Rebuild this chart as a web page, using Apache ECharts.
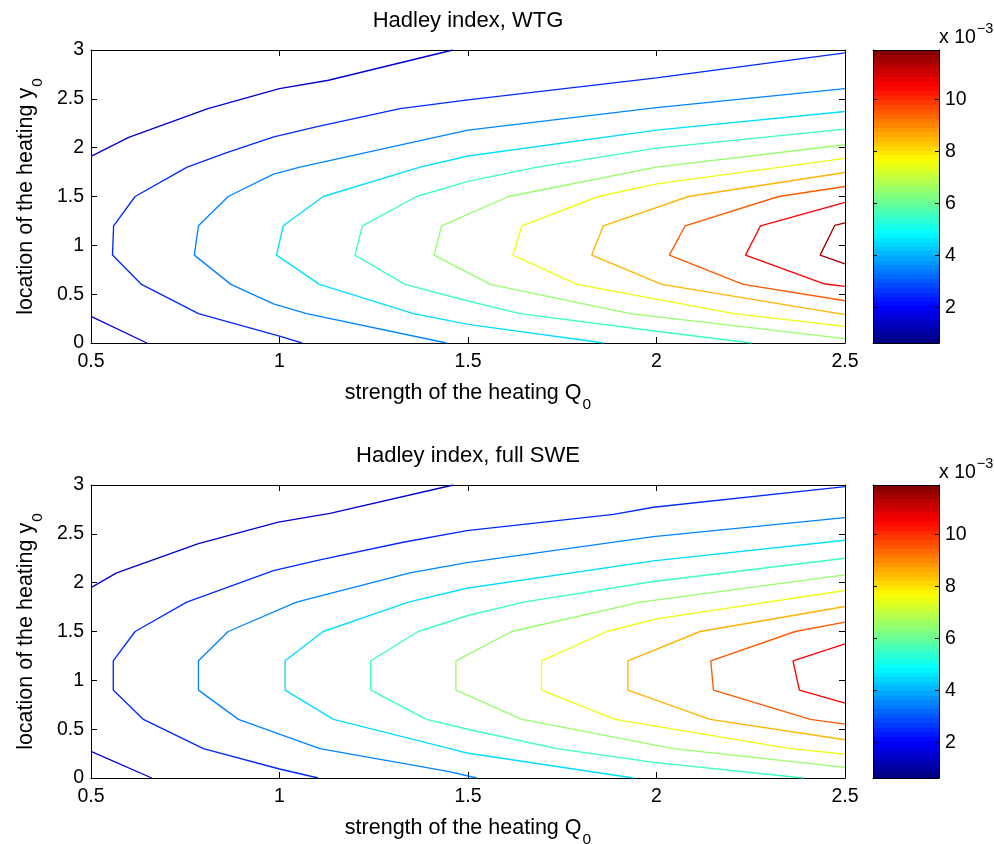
<!DOCTYPE html>
<html><head><meta charset="utf-8">
<script src="https://cdn.jsdelivr.net/npm/echarts@6/dist/echarts.min.js"></script>
<style>html,body{margin:0;padding:0;background:#fff}#c{width:994px;height:844px}</style>
</head><body><div id="c"></div>
<script>
// ---------- data ----------
const xTickValues = [0.5, 1, 1.5, 2, 2.5];
const yTickValues = [0, 0.5, 1, 1.5, 2, 2.5, 3];
const colorRange = [0.62, 11.9];          // colorbar limits (x 10^-3)
const colorbarTicks = [2, 4, 6, 8, 10];
const contourLevels = [1.5, 2.5, 3.5, 4.5, 5.5, 6.5, 7.5, 8.5, 9.5, 10.5, 11.5];

// Top panel: WTG  (points are [Q0, y0])
const wtgL1a = [[0.5,1.91],[0.6,2.105],[0.81,2.4],[1.0,2.605],[1.13,2.69],[1.46,3.0]];
const wtgL1b = [[0.5,0.273],[0.648,0]];
const wtgL2 = [[2.5,2.97],[2.0,2.715],[1.5,2.49],[1.32,2.4],[1.1,2.215],[0.985,2.11],[0.86,1.95],[0.755,1.8],[0.617,1.5],[0.56,1.2],[0.557,0.9],[0.634,0.6],[0.785,0.3],[1.0,0.07],[1.06,0]];
const wtgL3 = [[2.5,2.605],[2.0,2.41],[1.5,2.18],[1.054,1.8],[0.984,1.73],[0.864,1.5],[0.785,1.2],[0.774,0.9],[0.871,0.6],[0.984,0.4],[1.072,0.3],[1.443,0]];
const wtgL4 = [[2.5,2.37],[2.0,2.18],[1.5,1.915],[1.373,1.8],[1.116,1.5],[1.01,1.2],[0.992,0.9],[1.106,0.6],[1.355,0.3],[1.5,0.19],[1.86,0]];
const wtgL5 = [[2.5,2.19],[2.0,1.995],[1.683,1.8],[1.5,1.654],[1.364,1.5],[1.22,1.2],[1.2,0.9],[1.333,0.6],[1.5,0.43],[1.638,0.3],[2.0,0.12],[2.252,0]];
const wtgL6 = [[2.5,2.03],[2.0,1.8],[1.607,1.5],[1.43,1.2],[1.41,0.9],[1.559,0.6],[1.93,0.3],[2.5,0.044]];
const wtgL7 = [[2.5,1.89],[2.0,1.63],[1.846,1.5],[1.643,1.2],[1.619,0.9],[1.789,0.6],[2.205,0.3],[2.5,0.17]];
const wtgL8 = [[2.5,1.746],[2.085,1.5],[1.859,1.2],[1.828,0.9],[2.014,0.6],[2.5,0.29]];
const wtgL9 = [[2.5,1.602],[2.324,1.5],[2.076,1.2],[2.034,0.9],[2.23,0.6],[2.5,0.433]];
const wtgL10 = [[2.5,1.44],[2.276,1.2],[2.236,0.9],[2.443,0.607],[2.5,0.58]];
const wtgL11 = [[2.5,1.23],[2.473,1.205],[2.434,0.9],[2.5,0.81]];

// Bottom panel: full SWE
const sweL1a = [[0.5,1.95],[0.568,2.1],[0.785,2.4],[0.997,2.62],[1.134,2.71],[1.461,3.0]];
const sweL1b = [[0.5,0.273],[0.661,0]];
const sweL2 = [[2.5,2.983],[1.992,2.772],[1.886,2.70],[1.497,2.533],[1.328,2.414],[1.107,2.233],[0.984,2.124],[0.754,1.8],[0.617,1.5],[0.559,1.2],[0.559,0.9],[0.639,0.6],[0.798,0.3],[1.0,0.092],[1.103,0]];
const sweL3 = [[2.5,2.666],[1.992,2.472],[1.497,2.206],[1.346,2.1],[1.045,1.8],[0.864,1.5],[0.785,1.2],[0.785,0.9],[0.891,0.6],[1.107,0.3],[1.45,0.065],[1.523,0]];
const sweL4 = [[2.5,2.434],[1.992,2.223],[1.497,1.943],[1.342,1.8],[1.116,1.5],[1.015,1.2],[1.015,0.9],[1.143,0.6],[1.452,0.3],[1.497,0.256],[1.939,0]];
const sweL5 = [[2.5,2.25],[1.992,2.012],[1.647,1.8],[1.5,1.664],[1.368,1.5],[1.242,1.2],[1.242,0.9],[1.39,0.6],[1.505,0.494],[1.735,0.3],[1.992,0.16],[2.39,0]];
const sweL6 = [[2.5,2.08],[1.957,1.8],[1.616,1.5],[1.468,1.2],[1.468,0.9],[1.643,0.6],[2.045,0.3],[2.5,0.109]];
const sweL7 = [[2.5,1.92],[2.0,1.63],[1.868,1.5],[1.695,1.2],[1.695,0.9],[1.89,0.6],[2.355,0.3],[2.5,0.245]];
const sweL8 = [[2.5,1.756],[2.116,1.5],[1.924,1.2],[1.924,0.9],[2.142,0.6],[2.5,0.392]];
const sweL9 = [[2.5,1.596],[2.368,1.5],[2.144,1.2],[2.151,0.9],[2.408,0.6],[2.5,0.552]];
const sweL10 = [[2.5,1.374],[2.362,1.2],[2.379,0.9],[2.5,0.767]];

// contour pieces: [levelIndex, points]
const wtgContours = [[0,wtgL1a],[0,wtgL1b],[1,wtgL2],[2,wtgL3],[3,wtgL4],[4,wtgL5],[5,wtgL6],[6,wtgL7],[7,wtgL8],[8,wtgL9],[9,wtgL10],[10,wtgL11]];
const sweContours = [[0,sweL1a],[0,sweL1b],[1,sweL2],[2,sweL3],[3,sweL4],[4,sweL5],[5,sweL6],[6,sweL7],[7,sweL8],[8,sweL9],[9,sweL10]];

// ---------- rendering ----------
const FONT = 'Liberation Sans, Arial, Helvetica, sans-serif';
function jet(t) {
  const c = v => Math.round(255 * Math.max(0, Math.min(1, v)));
  return 'rgb(' + c(1.5 - Math.abs(4*t - 3)) + ',' + c(1.5 - Math.abs(4*t - 2)) + ',' + c(1.5 - Math.abs(4*t - 1)) + ')';
}
function levelColor(L) { return jet((L - colorRange[0]) / (colorRange[1] - colorRange[0])); }

const stops = [];
for (let i = 0; i < 64; i++) {
  const col = jet((i + 0.5) / 64);
  stops.push({offset: i / 64, color: col});
  stops.push({offset: (i + 1) / 64, color: col});
}
const cbGradient = new echarts.graphic.LinearGradient(0, 1, 0, 0, stops);

const black = {color: '#000', width: 1};
const tickFont = {color: '#000', fontSize: 19.5, fontFamily: FONT};
const subRich = {
  m: {fontSize: 21.5, fontFamily: FONT, color: '#000', lineHeight: 24, verticalAlign: 'middle', fontWeight: 'normal'},
  s: {fontSize: 15.5, fontFamily: FONT, color: '#000', lineHeight: 15, padding: [24, 0, 0, 1], verticalAlign: 'middle', fontWeight: 'normal'}
};

const grids = [
  {left: 91, top: 50, width: 754, height: 293, outerBoundsMode: 'none'},
  {left: 91, top: 485, width: 754, height: 293, outerBoundsMode: 'none'},
  {left: 873, top: 50, width: 66, height: 293, outerBoundsMode: 'none'},
  {left: 873, top: 485, width: 66, height: 293, outerBoundsMode: 'none'}
];

const xAxes = [], yAxes = [];
function plotAxes(g, title) {
  const base = {type: 'value', gridIndex: g, min: xTickValues[0], max: xTickValues[xTickValues.length-1], interval: 0.5,
    axisLine: {show: true, onZero: false, lineStyle: black}, splitLine: {show: false},
    axisTick: {show: true, inside: true, length: 6, lineStyle: black}};
  xAxes.push(Object.assign({}, base, {position: 'bottom',
    axisLabel: Object.assign({margin: 9}, tickFont),
    name: '{m|strength of the heating Q}{s|0}', nameLocation: 'middle', nameGap: 28,
    nameTextStyle: {rich: subRich}}));
  xAxes.push(Object.assign({}, base, {position: 'top', axisLabel: {show: false},
    name: title, nameLocation: 'middle', nameGap: 18,
    nameTextStyle: {fontSize: 22, fontFamily: FONT, color: '#000'}}));
  const ybase = {type: 'value', gridIndex: g, min: yTickValues[0], max: yTickValues[yTickValues.length-1], interval: 0.5,
    axisLine: {show: true, onZero: false, lineStyle: black}, splitLine: {show: false},
    axisTick: {show: true, inside: true, length: 6, lineStyle: black}};
  yAxes.push(Object.assign({}, ybase, {position: 'left',
    axisLabel: Object.assign({margin: 7}, tickFont),
    name: '{m|location of the heating y}{s|0}', nameLocation: 'middle', nameGap: 43, nameRotate: 90,
    nameTextStyle: {rich: subRich}}));
  yAxes.push(Object.assign({}, ybase, {position: 'right', axisLabel: {show: false}}));
}
function cbAxes(g) {
  const xb = {type: 'value', gridIndex: g, min: 0, max: 1, axisLine: {show: true, onZero: false, lineStyle: black},
    axisTick: {show: false}, axisLabel: {show: false}, splitLine: {show: false}};
  xAxes.push(Object.assign({}, xb, {position: 'bottom'}));
  xAxes.push(Object.assign({}, xb, {position: 'top'}));
  const yb = {type: 'value', gridIndex: g, min: colorRange[0], max: colorRange[1],
    axisLine: {show: true, onZero: false, lineStyle: black}, splitLine: {show: false},
    axisTick: {show: true, inside: true, length: 4, lineStyle: black, customValues: colorbarTicks}};
  yAxes.push(Object.assign({}, yb, {position: 'left', axisLabel: {show: false}}));
  yAxes.push(Object.assign({}, yb, {position: 'right',
    axisLabel: Object.assign({margin: 6, customValues: colorbarTicks}, tickFont)}));
}
plotAxes(0, 'Hadley index, WTG');
plotAxes(1, 'Hadley index, full SWE');
cbAxes(2);
cbAxes(3);

const series = [];
function addContours(list, axisIdx) {
  list.forEach(([li, pts]) => {
    series.push({type: 'line', xAxisIndex: axisIdx, yAxisIndex: axisIdx, data: pts,
      symbol: 'none', showSymbol: false, silent: true, clip: true, animation: false, z: 3,
      lineStyle: {color: levelColor(contourLevels[li]), width: 1.35}});
  });
}
addContours(wtgContours, 0);
addContours(sweContours, 2);
[4, 6].forEach(ai => {
  series.push({type: 'custom', xAxisIndex: ai, yAxisIndex: ai, z: -1, silent: true, animation: false,
    encode: {x: [0, 2], y: [1, 3]},
    data: [[0, colorRange[0], 1, colorRange[1]]],
    renderItem: (params, api) => {
      const p0 = api.coord([api.value(0), api.value(1)]);
      const p1 = api.coord([api.value(2), api.value(3)]);
      return {type: 'rect', shape: {x: p0[0], y: p1[1], width: p1[0] - p0[0], height: p0[1] - p1[1]},
        style: {fill: cbGradient}};
    }});
});

const supRich = {
  a: {fontSize: 19.5, fontFamily: FONT, color: '#000', lineHeight: 20, verticalAlign: 'middle', fontWeight: 'normal'},
  b: {fontSize: 14.5, fontFamily: FONT, color: '#000', lineHeight: 14, padding: [0, 0, 19, 1], verticalAlign: 'middle', fontWeight: 'normal'}
};
const titles = [
  {left: 939, top: 28, padding: 0, text: '{a|x 10}{b|\u22123}', textStyle: {rich: supRich, fontWeight: 'normal'}},
  {left: 939, top: 463, padding: 0, text: '{a|x 10}{b|\u22123}', textStyle: {rich: supRich, fontWeight: 'normal'}}
];

const chart = echarts.init(document.getElementById('c'), null, {renderer: 'canvas'});
chart.setOption({
  animation: false,
  backgroundColor: '#fff',
  title: titles,
  grid: grids,
  xAxis: xAxes,
  yAxis: yAxes,
  series: series
});
</script>
</body></html>
